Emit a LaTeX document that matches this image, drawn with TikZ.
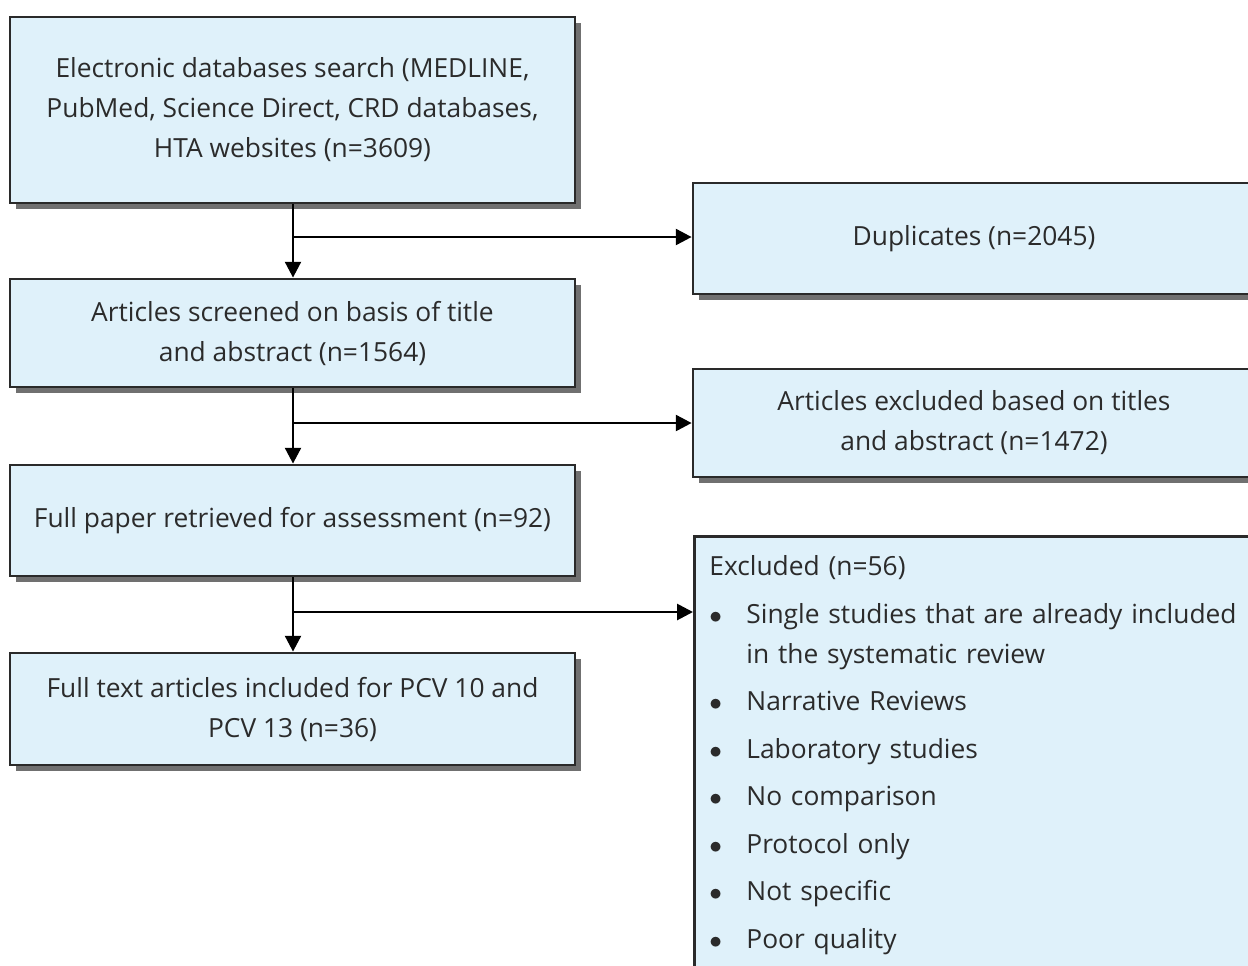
\documentclass[tikz,border=0pt]{standalone}
\usepackage{fontspec}
\setmainfont{Open Sans}
\usepackage{xcolor}
\usetikzlibrary{arrows.meta,shadows,positioning}
\definecolor{boxfill}{HTML}{DFF1FA}
\definecolor{boxline}{HTML}{2A2A2A}
\definecolor{boxtext}{HTML}{2B2B2B}
\newlength{\bulletw}
\setlength{\bulletw}{0.74cm}

\begin{document}
\begin{tikzpicture}[x = 0.02cm, y = -0.02cm]
	\tikzstyle{box} = [draw = boxline, line width = 1.6pt, fill = boxfill, text = boxtext, align = center, font = \fontsize{15}{22.76}\selectfont, drop shadow = {shadow xshift = 0.12cm, shadow yshift = -0.12cm, fill = black!75, opacity = 0.75}]
	\tikzstyle{arr} = [draw = black, line width = 1.6pt, -{Triangle[length = 9pt, width = 9pt]}]
\useasboundingbox (0, 0) rectangle (1248, 965);
\node[box, minimum width = 11.3cm, minimum height = 3.72cm] (1) at (292.5, 110) {Electronic databases search (MEDLINE,\\ PubMed, Science Direct, CRD databases,\\ HTA websites (n=3609)};
\node[box, minimum width = 11.24cm, minimum height = 2.22cm] (2) at (974, 238.5) {Duplicates (n=2045)};
\node[box, minimum width = 11.3cm, minimum height = 2.16cm] (3) at (292.5, 333) {Articles screened on basis of title\\ and abstract (n=1564)};
\node[box, minimum width = 11.24cm, minimum height = 2.16cm] (4) at (974, 423) {Articles excluded based on titles\\ and abstract (n=1472)};
\node[box, minimum width = 11.3cm, minimum height = 2.22cm] (5) at (292.5, 520.5) {Full paper retrieved for assessment (n=92)};
\node[box, anchor = north west, inner xsep = 0.3cm, inner ysep = 0.39cm, text width = 11cm, align = left] (6) at (693, 535) {Excluded (n=56)\\[0.15cm]
	\makebox[\bulletw][l]{$\bullet$}Single studies that are already included\\
	\hspace*{\bulletw}in the systematic review\\[0.15cm]
	\makebox[\bulletw][l]{$\bullet$}Narrative Reviews\\[0.15cm]
	\makebox[\bulletw][l]{$\bullet$}Laboratory studies\\[0.15cm]
	\makebox[\bulletw][l]{$\bullet$}No comparison\\[0.15cm]
	\makebox[\bulletw][l]{$\bullet$}Protocol only\\[0.15cm]
	\makebox[\bulletw][l]{$\bullet$}Not specific\\[0.15cm]
	\makebox[\bulletw][l]{$\bullet$}Poor quality\\[0.3cm]};
\node[box, minimum width = 11.3cm, minimum height = 2.24cm] (7) at (292.5, 709) {Full text articles included for PCV 10 and\\ PCV 13 (n=36)};

	\coordinate (a) at (293, 237);
	\coordinate (b) at (293, 423);
	\coordinate (c) at (293, 612);
	\path[arr] (a |- 1.south) -- (a |- 3.north);
	\path[arr] (a) -- (a -| 2.west);
	\path[arr] (b |- 3.south) -- (b |- 5.north);
	\path[arr] (b) -- (b -| 4.west);
	\path[arr] (c |- 5.south) -- (c |- 7.north);
	\path[arr] (c) -- (c -| 6.west);
\end{tikzpicture}
\end{document}
